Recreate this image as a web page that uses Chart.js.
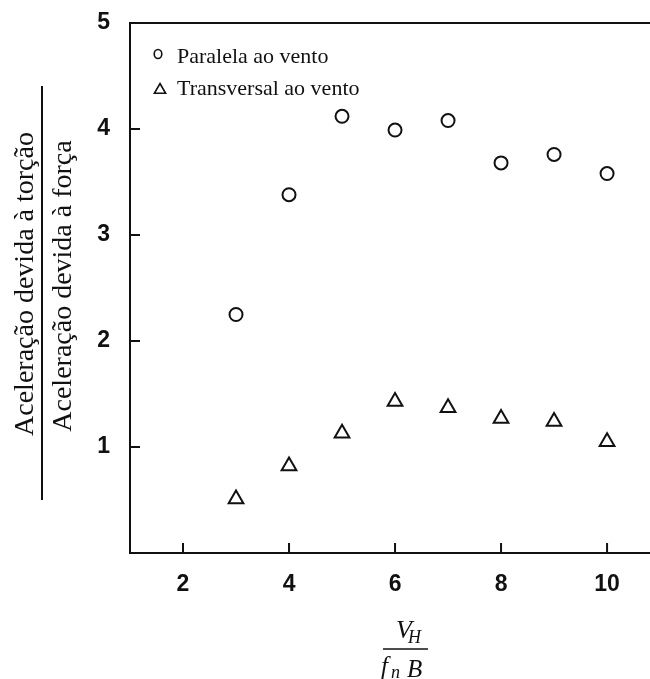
<!DOCTYPE html>
<html><head><meta charset="utf-8">
<script src="https://cdn.jsdelivr.net/npm/chart.js@4.4.0/dist/chart.umd.min.js"></script>
<style>html,body{margin:0;padding:0;background:#fff;}#wrap{width:650px;height:679px;}</style>
</head><body><div id="wrap"><canvas id="c" width="650" height="679"></canvas></div>
<script>
const xValues = [3, 4, 5, 6, 7, 8, 9, 10];
const paralelaValues = [2.25, 3.38, 4.12, 3.99, 4.08, 3.68, 3.76, 3.58];
const transversalValues = [0.51, 0.82, 1.13, 1.43, 1.37, 1.27, 1.24, 1.05];
const xTicks = [2, 4, 6, 8, 10];
const yTicks = [1, 2, 3, 4, 5];
const seriesLabels = ['Paralela ao vento', 'Transversal ao vento'];
const yTitleTop = 'Aceleração devida à torção';
const yTitleBottom = 'Aceleração devida à força';

const INK = '#111';
const SERIF = '"Liberation Serif", "DejaVu Serif", serif';
const SANS = '"Liberation Sans", Arial, sans-serif';

const decor = {
  id: 'decor',
  afterDraw(chart) {
    const ctx = chart.ctx, ca = chart.chartArea;
    const xs = chart.scales.x, ys = chart.scales.y;
    ctx.save();
    ctx.strokeStyle = INK; ctx.fillStyle = INK;
    ctx.lineWidth = 2;
    ctx.beginPath();
    ctx.moveTo(ca.left, ca.top); ctx.lineTo(ca.left, ca.bottom);
    ctx.moveTo(ca.left - 1, ca.bottom); ctx.lineTo(chart.width, ca.bottom);
    ctx.moveTo(ca.left - 1, ca.top); ctx.lineTo(chart.width, ca.top);
    ctx.stroke();
    ctx.beginPath();
    xTicks.forEach(v => { const p = xs.getPixelForValue(v); ctx.moveTo(p, ca.bottom); ctx.lineTo(p, ca.bottom - 10); });
    yTicks.slice(0, -1).forEach(v => { const p = ys.getPixelForValue(v); ctx.moveTo(ca.left, p); ctx.lineTo(ca.left + 10, p); });
    ctx.stroke();

    // legend
    ctx.lineWidth = 1.6;
    ctx.beginPath(); ctx.ellipse(158, 54, 3.8, 4.5, 0, 0, Math.PI * 2); ctx.stroke();
    const tr = 6.5, tx = 160, ty = 90;
    ctx.beginPath();
    ctx.moveTo(tx, ty - tr); ctx.lineTo(tx + tr * 0.866, ty + tr / 2); ctx.lineTo(tx - tr * 0.866, ty + tr / 2); ctx.closePath(); ctx.stroke();
    ctx.font = '22px ' + SERIF;
    ctx.textAlign = 'left'; ctx.textBaseline = 'alphabetic';
    ctx.fillText(seriesLabels[0], 177, 63);
    ctx.fillText(seriesLabels[1], 177, 95);

    // y title (fraction)
    ctx.font = '28px ' + SERIF;
    ctx.textAlign = 'center';
    ctx.save(); ctx.translate(33, 284); ctx.rotate(-Math.PI / 2); ctx.fillText(yTitleTop, 0, 0); ctx.restore();
    ctx.save(); ctx.translate(71, 286); ctx.rotate(-Math.PI / 2); ctx.fillText(yTitleBottom, 0, 0); ctx.restore();
    ctx.lineWidth = 2;
    ctx.beginPath(); ctx.moveTo(42, 86); ctx.lineTo(42, 500); ctx.stroke();

    // x title (fraction)
    ctx.textAlign = 'left';
    ctx.font = 'italic 26px ' + SERIF;
    ctx.fillText('V', 396, 638);
    ctx.font = 'italic 18px ' + SERIF;
    ctx.fillText('H', 408, 643);
    ctx.lineWidth = 1.5;
    ctx.beginPath(); ctx.moveTo(383, 649); ctx.lineTo(428, 649); ctx.stroke();
    ctx.font = 'italic 25px ' + SERIF;
    ctx.fillText('f', 381, 674);
    ctx.font = 'italic 18px ' + SERIF;
    ctx.fillText('n', 391, 678);
    ctx.font = 'italic 25px ' + SERIF;
    ctx.fillText('B', 407, 677);
    ctx.restore();
  }
};

new Chart(document.getElementById('c'), {
  type: 'scatter',
  data: {
    datasets: [
      { label: seriesLabels[0], data: xValues.map((x, i) => ({ x, y: paralelaValues[i] })),
        pointStyle: 'circle', pointRadius: 6.5, pointBorderWidth: 2, borderColor: INK, backgroundColor: 'rgba(0,0,0,0)' },
      { label: seriesLabels[1], data: xValues.map((x, i) => ({ x, y: transversalValues[i] })),
        pointStyle: 'triangle', pointRadius: 8.5, pointBorderWidth: 2, borderColor: INK, backgroundColor: 'rgba(0,0,0,0)' }
    ]
  },
  options: {
    responsive: false, animation: false,
    layout: { autoPadding: false, padding: { top: 23, left: 0, right: 0, bottom: 0 } },
    plugins: { legend: { display: false }, tooltip: { enabled: false } },
    scales: {
      x: {
        type: 'linear', min: 1, max: 10.81,
        grid: { display: false }, border: { display: false },
        afterBuildTicks: s => { s.ticks = xTicks.map(v => ({ value: v })); },
        afterFit: s => { s.height = 126; s.paddingLeft = 0; s.paddingRight = 0; },
        ticks: { color: INK, font: { family: SANS, size: 23, weight: 'bold' }, padding: 10, maxRotation: 0 }
      },
      y: {
        type: 'linear', min: 0, max: 5,
        grid: { display: false }, border: { display: false },
        afterBuildTicks: s => { s.ticks = yTicks.map(v => ({ value: v })); },
        afterFit: s => { s.width = 130; s.paddingTop = 0; s.paddingBottom = 0; },
        ticks: { color: INK, font: { family: SANS, size: 23, weight: 'bold' }, padding: 12 }
      }
    }
  },
  plugins: [decor]
});
</script></body></html>
